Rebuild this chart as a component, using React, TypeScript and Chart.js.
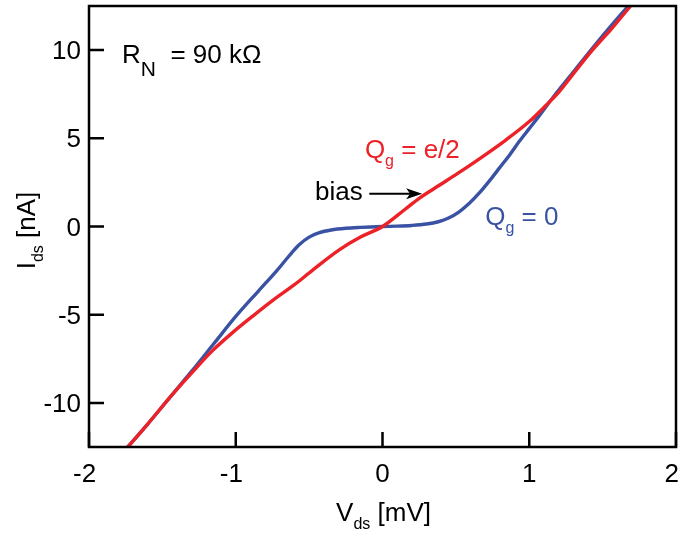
import React, { useEffect, useRef } from "react";
import { Chart, registerables } from "chart.js";
Chart.register(...registerables);

// Q_g = 0 (blue)
const vBlue = [-1.74, -1.6, -1.45, -1.3, -1.15, -1.0, -0.85, -0.72, -0.64, -0.57, -0.5, -0.43, -0.35, -0.25, -0.15, 0, 0.1, 0.2, 0.3, 0.38, 0.45, 0.52, 0.59, 0.66, 0.73, 0.8, 0.87, 0.93, 1.0, 1.07, 1.16, 1.3, 1.43, 1.55, 1.68];
const iBlue = [-12.54, -11.2, -9.7, -8.2, -6.65, -5.1, -3.7, -2.5, -1.7, -1.05, -0.6, -0.35, -0.2, -0.1, -0.05, 0, 0.02, 0.06, 0.14, 0.27, 0.48, 0.82, 1.3, 1.9, 2.6, 3.35, 4.1, 4.8, 5.55, 6.3, 7.3, 8.75, 10.1, 11.3, 12.55];
// Q_g = e/2 (red)
const vRed = [-1.74, -1.6, -1.45, -1.3, -1.16, -1.02, -0.88, -0.75, -0.6, -0.48, -0.29, -0.15, 0, 0.15, 0.25, 0.39, 0.52, 0.68, 0.84, 1.0, 1.1, 1.2, 1.3, 1.43, 1.56, 1.7];
const iRed = [-12.54, -11.2, -9.7, -8.3, -7.05, -6.0, -5.05, -4.2, -3.3, -2.5, -1.3, -0.6, 0, 0.95, 1.6, 2.35, 3.05, 3.95, 4.9, 5.95, 6.75, 7.6, 8.65, 10.0, 11.2, 12.6];

const xTicks = [-2, -1, 0, 1, 2];
const yTicks = [-10, -5, 0, 5, 10];
const xRange = [-2, 2];
const yRange = [-12.5, 12.5];

const RED = "#ED2228";
const BLUE = "#3A52A3";
const FONT = "'Liberation Sans', Arial, Helvetica, sans-serif";
const FS = 26;

type Part = { t: string; sub?: boolean; size?: number };

function drawRich(ctx: CanvasRenderingContext2D, parts: Part[], x: number, y: number, color: string) {
  ctx.save();
  ctx.fillStyle = color;
  ctx.textBaseline = "alphabetic";
  ctx.textAlign = "left";
  let cx = x;
  for (const p of parts) {
    const size = p.size ?? (p.sub ? 16 : FS);
    ctx.font = `${size}px ${FONT}`;
    const dy = p.sub ? (size > 17 ? 13 : 8) : 0;
    ctx.fillText(p.t, cx, y + dy);
    cx += ctx.measureText(p.t).width;
  }
  ctx.restore();
  return cx - x;
}

function richWidth(ctx: CanvasRenderingContext2D, parts: Part[]) {
  let w = 0;
  ctx.save();
  for (const p of parts) {
    const size = p.size ?? (p.sub ? 16 : FS);
    ctx.font = `${size}px ${FONT}`;
    w += ctx.measureText(p.t).width;
  }
  ctx.restore();
  return w;
}

const decor = {
  id: "decor",
  afterDraw(chart: any) {
    const ctx: CanvasRenderingContext2D = chart.ctx;
    const { left, right, top, bottom } = chart.chartArea;
    const W = chart.width;
    const xs = chart.scales.x;
    const ys = chart.scales.y;
    ctx.save();
    ctx.strokeStyle = "#000";
    ctx.lineWidth = 2.5;
    ctx.strokeRect(left, top, right - left, bottom - top);
    ctx.beginPath();
    for (const v of xTicks) {
      const px = xs.getPixelForValue(v);
      ctx.moveTo(px, bottom);
      ctx.lineTo(px, bottom - 15);
    }
    for (const v of yTicks) {
      const py = ys.getPixelForValue(v);
      ctx.moveTo(left, py);
      ctx.lineTo(left + 15, py);
    }
    ctx.stroke();

    // tick labels
    ctx.fillStyle = "#000";
    ctx.font = `${FS}px ${FONT}`;
    ctx.textBaseline = "alphabetic";
    ctx.textAlign = "left";
    for (const v of xTicks) {
      const px = xs.getPixelForValue(v);
      const digits = String(Math.abs(v));
      const dw = ctx.measureText(digits).width;
      const mw = v < 0 ? ctx.measureText("-").width : 0;
      let x0 = px - dw / 2;
      if (x0 + dw > W) x0 = W - dw;
      ctx.fillText(String(v), x0 - mw, bottom + 35);
    }
    ctx.textAlign = "right";
    for (const v of yTicks) {
      const py = ys.getPixelForValue(v);
      ctx.fillText(String(v), left - 8, py + 9);
    }
    ctx.restore();

    // R_N label
    drawRich(ctx, [{ t: "R" }, { t: "N", sub: true, size: 21 }, { t: "  = 90 kΩ" }], left + 33, top + 57, "#000");
    // Q_g = e/2
    drawRich(ctx, [{ t: "Q" }, { t: "g", sub: true }, { t: " = e/2" }], xs.getPixelForValue(-0.12), ys.getPixelForValue(3.9), RED);
    // Q_g = 0
    drawRich(ctx, [{ t: "Q" }, { t: "g", sub: true }, { t: " = 0" }], xs.getPixelForValue(0.7), ys.getPixelForValue(0.1), BLUE);
    // bias with arrow
    ctx.save();
    ctx.fillStyle = "#000";
    ctx.font = `${FS}px ${FONT}`;
    ctx.textBaseline = "alphabetic";
    ctx.fillText("bias", xs.getPixelForValue(-0.46), ys.getPixelForValue(1.5));
    const ay = ys.getPixelForValue(1.85);
    const ax0 = xs.getPixelForValue(-0.09);
    const ax1 = xs.getPixelForValue(0.27);
    ctx.strokeStyle = "#000";
    ctx.lineWidth = 2;
    ctx.beginPath();
    ctx.moveTo(ax0, ay);
    ctx.lineTo(ax1 - 8, ay);
    ctx.stroke();
    ctx.beginPath();
    ctx.moveTo(ax1, ay);
    ctx.lineTo(ax1 - 16, ay - 5.5);
    ctx.lineTo(ax1 - 12, ay);
    ctx.lineTo(ax1 - 16, ay + 5.5);
    ctx.closePath();
    ctx.fill();
    ctx.restore();

    // axis titles
    const xt: Part[] = [{ t: "V" }, { t: "ds", sub: true }, { t: " [mV]" }];
    const xw = richWidth(ctx, xt);
    drawRich(ctx, xt, (left + right) / 2 - xw / 2 + 1, 521, "#000");
    const yt: Part[] = [{ t: "I" }, { t: "ds", sub: true }, { t: " [nA]" }];
    const yw = richWidth(ctx, yt);
    ctx.save();
    ctx.translate(35, (top + bottom) / 2 + 4);
    ctx.rotate(-Math.PI / 2);
    drawRich(ctx, yt, -yw / 2, 0, "#000");
    ctx.restore();
  },
};

const noPad = (s: any) => {
  s.paddingTop = 0;
  s.paddingBottom = 0;
  s.paddingLeft = 0;
  s.paddingRight = 0;
};

export default function App() {
  const ref = useRef<HTMLCanvasElement>(null);
  useEffect(() => {
    document.body.style.margin = "0";
    const blue = vBlue.map((v, i) => ({ x: v, y: iBlue[i] }));
    const red = vRed.map((v, i) => ({ x: v, y: iRed[i] }));
    const chart = new Chart(ref.current!, {
      type: "scatter",
      data: {
        datasets: [
          { label: "Q_g = e/2", data: red, showLine: true, borderColor: RED, borderWidth: 3.4, pointRadius: 0, cubicInterpolationMode: "monotone" } as any,
          { label: "Q_g = 0", data: blue, showLine: true, borderColor: BLUE, borderWidth: 3.4, pointRadius: 0, cubicInterpolationMode: "monotone" } as any,
        ],
      },
      options: {
        animation: false,
        responsive: true,
        maintainAspectRatio: false,
        layout: { padding: { top: 6, right: 3, left: 0, bottom: 0 } },
        plugins: { legend: { display: false }, tooltip: { enabled: false } },
        scales: {
          x: {
            type: "linear",
            min: xRange[0],
            max: xRange[1],
            grid: { display: false },
            border: { display: false },
            afterBuildTicks: (a: any) => { a.ticks = xTicks.map((v) => ({ value: v })); },
            afterFit: (s: any) => { s.height = 87; noPad(s); },
            ticks: { display: false },
          },
          y: {
            type: "linear",
            min: yRange[0],
            max: yRange[1],
            grid: { display: false },
            border: { display: false },
            afterBuildTicks: (a: any) => { a.ticks = yTicks.map((v) => ({ value: v })); },
            afterFit: (s: any) => { s.width = 89; noPad(s); },
            ticks: { display: false },
          },
        },
      },
      plugins: [decor],
    });
    return () => chart.destroy();
  }, []);
  return (
    <div style={{ position: "absolute", left: 0, top: 0, width: 679, height: 534 }}>
      <canvas ref={ref} />
    </div>
  );
}
